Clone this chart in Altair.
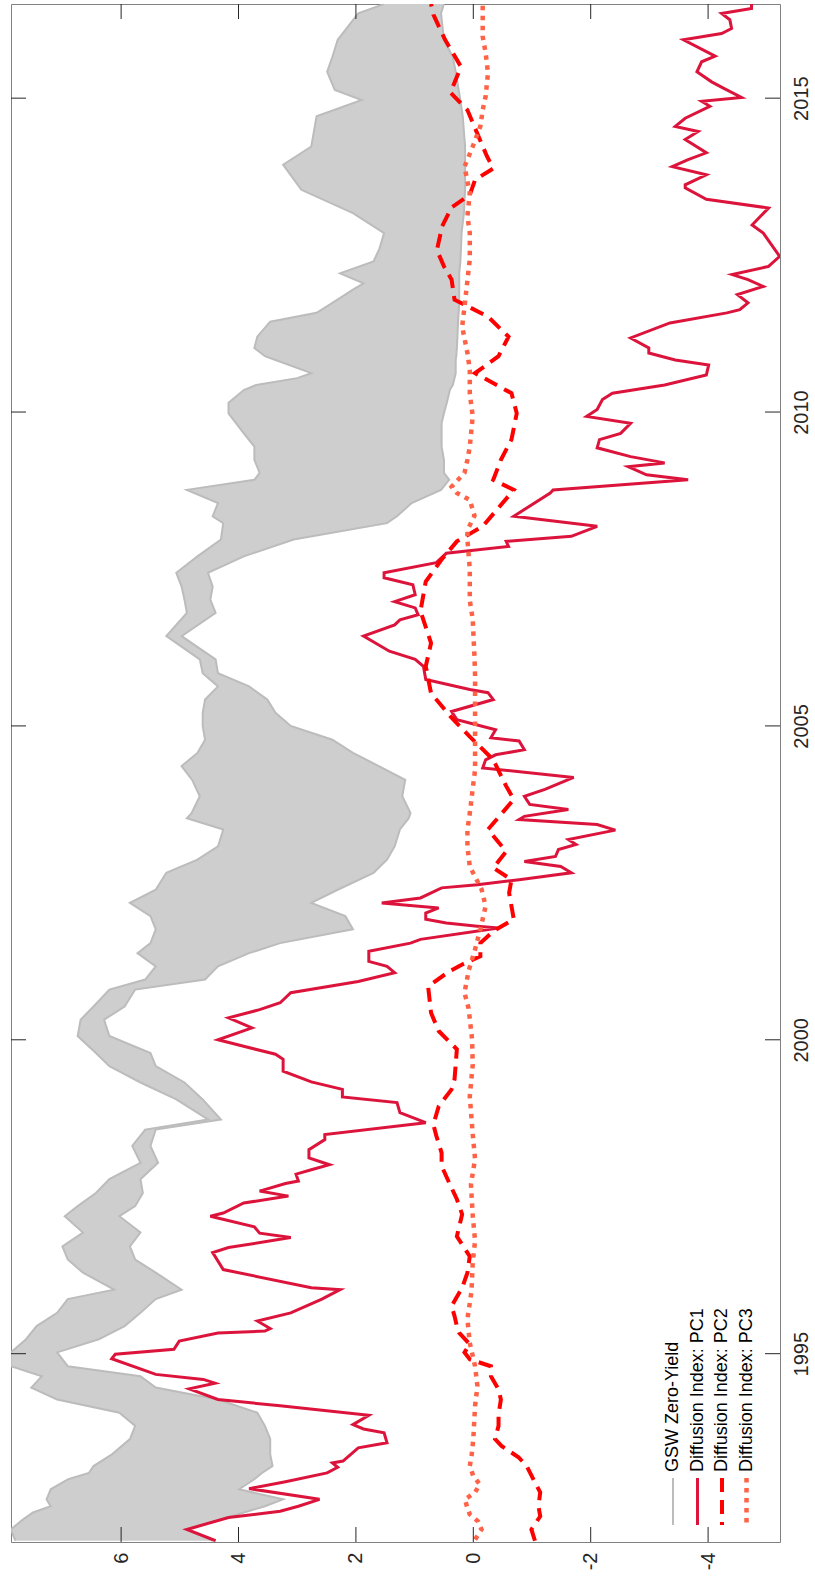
import altair as alt
import pandas as pd

# ---------------- data ----------------
gsw_year = [1992.02, 1992.20, 1992.36, 1992.47, 1992.57, 1992.68, 1992.84, 1993.00, 1993.10, 1993.21,
            1993.40, 1993.64, 1993.85, 1994.06, 1994.27, 1994.46, 1994.64, 1994.80, 1995.02, 1995.23,
            1995.44, 1995.65, 1995.87, 1996.02, 1996.29, 1996.50, 1996.71, 1996.93, 1997.19, 1997.35,
            1997.56, 1997.78, 1998.04, 1998.31, 1998.57, 1998.73, 1999.05, 1999.32, 1999.58, 1999.79,
            2000.06, 2000.32, 2000.53, 2000.80, 2000.96, 2001.17, 2001.38, 2001.54, 2001.76, 2001.97,
            2002.18, 2002.39, 2002.66, 2002.87, 2003.08, 2003.35, 2003.53, 2003.61, 2003.88, 2004.14,
            2004.36, 2004.57, 2004.78, 2005.00, 2005.21, 2005.42, 2005.63, 2005.84, 2006.06, 2006.43,
            2006.80, 2007.01, 2007.22, 2007.44, 2007.70, 2007.97, 2008.23, 2008.34, 2008.55, 2008.76,
            2008.92, 2009.03, 2009.24, 2009.45, 2009.66, 2009.82, 2009.98, 2010.15, 2010.35, 2010.43,
            2010.54, 2010.62, 2010.83, 2010.89, 2011.02, 2011.20, 2011.44, 2011.58, 2011.74, 2011.95,
            2012.05, 2012.21, 2012.40, 2012.60, 2012.85, 2013.17, 2013.54, 2013.94, 2014.23, 2014.71,
            2014.97, 2015.13, 2015.42, 2015.66, 2015.93, 2016.35, 2016.50]
gsw_long = [7.80, 7.88, 7.67, 7.50, 7.20, 7.27, 7.20, 6.90, 6.55, 6.47,
            6.15, 5.85, 5.76, 6.03, 7.09, 7.53, 7.35, 7.88, 7.88, 7.62,
            7.44, 7.09, 6.91, 6.12, 6.65, 6.91, 7.00, 6.65, 6.96, 6.74,
            6.43, 6.20, 5.67, 5.81, 5.59, 4.52, 5.06, 5.67, 6.20, 6.43,
            6.74, 6.69, 6.47, 6.20, 5.59, 5.41, 5.72, 5.50, 5.41, 5.50,
            5.85, 5.41, 5.23, 4.70, 4.35, 4.26, 4.88, 4.80, 4.66, 4.79,
            4.97, 4.70, 4.57, 4.61, 4.61, 4.57, 4.35, 4.61, 4.66, 5.23,
            4.88, 4.92, 4.97, 5.06, 4.70, 4.30, 4.26, 4.44, 4.35, 4.88,
            3.73, 3.64, 3.73, 3.73, 3.91, 4.04, 4.17, 4.17, 3.91, 3.70,
            3.00, 2.76, 3.37, 3.55, 3.73, 3.68, 3.46, 2.67, 2.40, 2.05,
            1.87, 2.27, 1.70, 1.60, 1.52, 2.05, 2.93, 3.24, 2.76, 2.67,
            1.90, 2.36, 2.49, 2.40, 2.31, 1.96, 1.52]
gsw_short = [4.44, 4.88, 4.30, 3.91, 3.55, 3.24, 3.99, 3.73, 3.60, 3.42,
             3.46, 3.46, 3.55, 3.68, 4.35, 5.41, 5.67, 6.91, 7.09, 6.38,
             5.94, 5.67, 5.41, 4.97, 5.41, 5.76, 5.85, 5.67, 6.03, 5.76,
             5.63, 5.67, 5.37, 5.50, 5.41, 4.30, 4.61, 4.92, 5.41, 5.50,
             6.20, 6.29, 5.94, 5.76, 4.57, 4.35, 3.82, 3.29, 2.05, 2.18,
             2.76, 2.31, 1.70, 1.47, 1.34, 1.25, 1.10, 1.07, 1.21, 1.16,
             1.61, 2.05, 2.40, 3.11, 3.37, 3.51, 3.82, 4.35, 4.39, 4.97,
             4.39, 4.48, 4.44, 4.52, 3.91, 3.06, 1.47, 1.30, 1.05, 0.55,
             0.41, 0.50, 0.50, 0.54, 0.54, 0.54, 0.50, 0.45, 0.40, 0.35,
             0.32, 0.30, 0.30, 0.29, 0.28, 0.27, 0.26, 0.25, 0.24, 0.24,
             0.24, 0.24, 0.22, 0.21, 0.20, 0.16, 0.14, 0.14, 0.14, 0.18,
             0.22, 0.25, 0.30, 0.35, 0.50, 0.55, 0.50]

pc1_year = [1992.02, 1992.20, 1992.39, 1992.49, 1992.57, 1992.68, 1992.85, 1992.96, 1993.10, 1993.19,
            1993.26, 1993.29, 1993.50, 1993.58, 1993.74, 1993.80, 1993.87, 1994.02, 1994.17, 1994.27,
            1994.44, 1994.53, 1994.59, 1994.67, 1994.92, 1994.99, 1995.07, 1995.20, 1995.33, 1995.36,
            1995.40, 1995.52, 1995.65, 1995.87, 1996.02, 1996.05, 1996.34, 1996.61, 1996.69, 1996.85,
            1996.92, 1997.02, 1997.19, 1997.24, 1997.40, 1997.51, 1997.59, 1997.71, 1997.75, 1997.86,
            1997.93, 1998.01, 1998.12, 1998.25, 1998.41, 1998.49, 1998.68, 1998.84, 1999.00, 1999.09,
            1999.21, 1999.33, 1999.50, 1999.69, 1999.77, 2000.00, 2000.19, 2000.35, 2000.48, 2000.59,
            2000.75, 2000.93, 2001.07, 2001.17, 2001.25, 2001.41, 2001.54, 2001.60, 2001.78, 2001.81,
            2001.86, 2001.92, 2002.02, 2002.10, 2002.18, 2002.26, 2002.42, 2002.47, 2002.55, 2002.66,
            2002.76, 2002.84, 2002.92, 2003.03, 2003.11, 2003.19, 2003.34, 2003.43, 2003.51, 2003.56,
            2003.67, 2003.75, 2003.88, 2003.99, 2004.18, 2004.33, 2004.46, 2004.54, 2004.62, 2004.76,
            2004.81, 2004.94, 2005.10, 2005.23, 2005.42, 2005.53, 2005.58, 2005.74, 2005.95, 2006.06,
            2006.19, 2006.43, 2006.61, 2006.69, 2006.77, 2006.88, 2006.98, 2007.09, 2007.25, 2007.36,
            2007.44, 2007.60, 2007.75, 2007.86, 2007.94, 2008.02, 2008.18, 2008.34, 2008.71, 2008.76,
            2008.92, 2009.00, 2009.13, 2009.19, 2009.29, 2009.43, 2009.56, 2009.66, 2009.82, 2009.93,
            2010.04, 2010.20, 2010.30, 2010.43, 2010.59, 2010.75, 2010.83, 2010.94, 2011.02, 2011.18,
            2011.42, 2011.58, 2011.63, 2011.74, 2011.87, 2012.00, 2012.11, 2012.19, 2012.32, 2012.48,
            2012.61, 2012.85, 2012.98, 2013.25, 2013.39, 2013.57, 2013.62, 2013.78, 2013.91, 2014.02,
            2014.13, 2014.34, 2014.47, 2014.55, 2014.68, 2014.87, 2014.95, 2015.01, 2015.16, 2015.26,
            2015.42, 2015.58, 2015.67, 2015.93, 2016.03, 2016.11, 2016.25, 2016.35, 2016.43, 2016.50]
pc1 = [4.39, 4.88, 4.17, 3.29, 2.98, 2.62, 3.82, 3.20, 2.49, 2.31,
       2.40, 2.22, 1.96, 1.47, 1.52, 1.87, 2.05, 1.78, 3.29, 4.35,
       4.84, 4.40, 4.60, 5.41, 6.16, 6.10, 5.10, 5.01, 4.35, 3.55,
       3.46, 3.68, 3.11, 2.58, 2.27, 2.76, 4.26, 4.44, 4.17, 3.11,
       3.64, 3.73, 4.48, 4.26, 3.91, 3.15, 3.64, 3.20, 2.98, 3.02,
       2.76, 2.45, 2.80, 2.80, 2.53, 2.53, 0.81, 1.25, 1.30, 2.23,
       2.23, 2.76, 3.24, 3.24, 3.37, 4.35, 3.77, 4.17, 3.64, 3.29,
       3.11, 1.96, 1.34, 1.47, 1.78, 1.78, 1.07, 0.90, -0.43, -0.07,
       0.46, 0.81, 0.81, 0.59, 1.56, 0.90, 0.54, -0.07, -0.78, -1.67,
       -1.49, -0.87, -1.40, -1.45, -1.75, -1.62, -2.42, -2.11, -0.78, -0.87,
       -1.62, -0.96, -0.87, -1.22, -1.71, -0.16, -0.21, -0.38, -0.87, -0.78,
       -0.30, -0.38, 0.28, 0.37, -0.34, -0.25, 0.06, 0.81, 0.85, 0.99,
       1.43, 1.87, 1.34, 1.25, 0.94, 0.99, 1.34, 0.99, 1.03, 1.52,
       1.52, 0.63, 0.46, -0.60, -0.56, -1.67, -2.11, -0.69, -1.31, -1.36,
       -3.66, -2.95, -2.64, -3.26, -2.68, -2.11, -2.15, -2.51, -2.68, -1.93,
       -2.11, -2.20, -2.37, -3.26, -3.97, -4.01, -3.44, -2.99, -2.99, -2.68,
       -3.35, -4.32, -4.54, -4.68, -4.50, -4.94, -4.68, -4.41, -5.03, -5.22,
       -5.12, -4.94, -4.75, -5.03, -3.97, -3.61, -3.61, -3.97, -3.39, -3.66,
       -3.97, -3.61, -3.83, -3.44, -3.61, -4.03, -3.89, -4.57, -4.26, -4.06,
       -3.81, -3.89, -4.12, -3.58, -4.23, -4.40, -4.37, -4.23, -4.74, -4.74]

pc2_year = [1992.02, 1992.20, 1992.41, 1992.57, 1992.79, 1992.95, 1993.21, 1993.35, 1993.53, 1993.64,
            1993.85, 1994.03, 1994.27, 1994.43, 1994.64, 1994.80, 1994.91, 1995.02, 1995.15, 1995.33,
            1995.44, 1995.60, 1995.76, 1996.05, 1996.29, 1996.55, 1996.87, 1997.22, 1997.46, 1997.72,
            1997.99, 1998.20, 1998.47, 1998.65, 1998.94, 1999.21, 1999.37, 1999.85, 2000.14, 2000.43,
            2000.85, 2001.09, 2001.20, 2001.33, 2001.54, 2001.73, 2001.92, 2002.34, 2002.55, 2002.74,
            2003.00, 2003.35, 2003.83, 2004.04, 2004.46, 2004.83, 2005.13, 2005.52, 2005.95, 2006.32,
            2006.83, 2007.30, 2007.65, 2007.94, 2008.18, 2008.76, 2008.92, 2009.24, 2009.56, 2009.98,
            2010.30, 2010.62, 2010.89, 2011.20, 2011.52, 2011.79, 2012.11, 2012.32, 2012.58, 2012.96,
            2013.26, 2013.46, 2013.70, 2013.88, 2014.08, 2014.52, 2014.81, 2015.09, 2015.50, 2015.93,
            2016.33, 2016.50]
pc2 = [-1.05, -0.99, -1.14, -1.11, -1.14, -1.05, -0.91, -0.77, -0.48, -0.37,
       -0.43, -0.43, -0.47, -0.43, -0.30, -0.30, 0.06, 0.15, 0.06, 0.24,
       0.28, 0.32, 0.37, 0.19, 0.10, 0.06, 0.28, 0.19, 0.28, 0.41,
       0.54, 0.54, 0.63, 0.68, 0.59, 0.37, 0.32, 0.28, 0.59, 0.72,
       0.77, 0.41, 0.19, -0.12, -0.12, -0.34, -0.69, -0.61, -0.65, -0.34,
       -0.56, -0.25, -0.69, -0.56, -0.34, 0.06, 0.37, 0.72, 0.81, 0.72,
       0.90, 0.81, 0.54, 0.28, -0.16, -0.69, -0.34, -0.47, -0.65, -0.74,
       -0.65, -0.03, -0.43, -0.60, -0.25, 0.32, 0.37, 0.50, 0.62, 0.53,
       0.37, 0.06, -0.03, -0.34, -0.23, -0.03, 0.10, 0.39, 0.21, 0.48,
       0.68, 0.72]

pc3_year = [1992.04, 1992.20, 1992.33, 1992.44, 1992.57, 1992.68, 1992.79, 1992.92, 1993.05, 1993.21,
            1993.37, 1993.64, 1994.17, 1994.48, 1994.80, 1995.17, 1995.55, 1996.00, 1996.45, 1996.80,
            1997.20, 1997.70, 1998.10, 1998.50, 1999.10, 1999.60, 2000.00, 2000.50, 2000.75, 2001.10,
            2001.44, 2001.76, 2002.13, 2002.40, 2002.76, 2003.08, 2003.35, 2003.61, 2004.00, 2004.30,
            2004.80, 2005.30, 2005.80, 2006.10, 2006.70, 2007.00, 2007.50, 2007.97, 2008.12, 2008.35,
            2008.60, 2008.71, 2008.81, 2009.03, 2009.24, 2009.45, 2009.93, 2010.30, 2010.67, 2010.94,
            2011.36, 2011.68, 2012.10, 2012.43, 2012.85, 2013.12, 2013.49, 2013.91, 2014.02, 2014.23,
            2014.55, 2014.81, 2015.03, 2015.40, 2015.72, 2015.98, 2016.43, 2016.50]
pc3 = [-0.03, -0.14, -0.08, 0.06, 0.11, 0.14, -0.03, -0.11, 0.00, 0.06,
       0.03, 0.00, -0.03, -0.07, -0.03, 0.06, 0.10, 0.03, 0.01, -0.03,
       0.01, 0.04, -0.03, 0.01, 0.06, 0.01, 0.02, 0.08, 0.15, 0.08,
       -0.03, -0.12, -0.21, -0.14, 0.06, 0.10, 0.10, 0.06, 0.01, -0.03,
       -0.03, -0.03, -0.03, -0.02, 0.01, 0.06, 0.06, 0.10, 0.10, -0.02,
       0.06, 0.28, 0.37, 0.15, 0.10, 0.06, 0.01, 0.06, 0.06, 0.10,
       0.19, 0.15, 0.10, 0.06, 0.06, 0.10, 0.06, 0.15, 0.10, 0.01,
       -0.12, -0.16, -0.21, -0.25, -0.21, -0.16, -0.16, -0.16]

value_ticks = [-4, -2, 0, 2, 4, 6]
year_ticks = [1995, 2000, 2005, 2010, 2015]
legend_labels = ["GSW Zero-Yield", "Diffusion Index: PC1", "Diffusion Index: PC2", "Diffusion Index: PC3"]

# ---------------- styling ----------------
W, H = 769, 1538
FONT = "Liberation Sans"
C_GRAY, C_FILL = "#bcbcbc", "#cecece"
C_PC1, C_PC2, C_PC3 = "#dc143c", "#ff0000", "#ff6347"
TICK = 15

xscale = alt.Scale(domain=[-5.225, 7.876], reverse=True, nice=False, zero=False)
yscale = alt.Scale(domain=[1992.0, 2016.5], nice=False, zero=False)
xaxis = alt.Axis(values=value_ticks, title="", ticks=False, domain=False, grid=False,
                 labelAngle=270, labelAlign="right", labelBaseline="middle", labelPadding=10,
                 labelFont=FONT, labelFontSize=20, labelColor="#262626",
                 labelExpr="datum.value < 0 ? '-' + (-datum.value) : '' + datum.value")
yaxis = alt.Axis(values=year_ticks, title="", orient="right", ticks=False, domain=False, grid=False,
                 format="d", labelAngle=270, labelAlign="center", labelBaseline="top", labelPadding=11,
                 labelFont=FONT, labelFontSize=20, labelColor="#262626")


def X(f):
    return alt.X(f, type="quantitative", scale=xscale, axis=xaxis)


def Y(f):
    return alt.Y(f, type="quantitative", scale=yscale, axis=yaxis)


band = pd.DataFrame({"year": gsw_year, "hi": gsw_long, "lo": gsw_short})
area = alt.Chart(band).mark_area(orient="horizontal", color=C_FILL, clip=True).encode(
    x=X("hi"), x2="lo", y=Y("year"))


def edge(col):
    return alt.Chart(band).mark_line(color=C_GRAY, strokeWidth=2, clip=True).encode(
        x=X(col), y=Y("year"), order=alt.Order("year:Q"))


def series(years, vals, color, width, dash=None):
    kw = dict(color=color, strokeWidth=width, clip=True)
    if dash:
        kw["strokeDash"] = dash
    df = pd.DataFrame({"year": years, "value": vals})
    return alt.Chart(df).mark_line(**kw).encode(x=X("value"), y=Y("year"), order=alt.Order("year:Q"))


l1 = series(pc1_year, pc1, C_PC1, 3)
l2 = series(pc2_year, pc2, C_PC2, 4, [14, 8])
l3 = series(pc3_year, pc3, C_PC3, 4.5, [4.5, 5.5])

# inward ticks on all four sides (MATLAB box style)
vt = pd.DataFrame({"value": value_ticks})
yt = pd.DataFrame({"year": year_ticks})
tick_kw = dict(color="#262626", strokeWidth=1)
t_top = alt.Chart(vt).mark_rule(**tick_kw).encode(x=X("value"), y=alt.value(0), y2=alt.value(TICK))
t_bot = alt.Chart(vt).mark_rule(**tick_kw).encode(x=X("value"), y=alt.value(H - TICK), y2=alt.value(H))
t_left = alt.Chart(yt).mark_rule(**tick_kw).encode(y=Y("year"), x=alt.value(0), x2=alt.value(TICK))
t_right = alt.Chart(yt).mark_rule(**tick_kw).encode(y=Y("year"), x=alt.value(W - TICK), x2=alt.value(W))

# legend (rotated, inside lower right)
LX0, LSTEP, LTEXT_Y, LLINE_Y0, LLINE_Y1 = 662, 24.5, 1468, 1474, 1521
leg_df = pd.DataFrame({"label": legend_labels, "k": list(range(len(legend_labels)))})
leg_text = alt.Chart(leg_df).transform_calculate(px=f"{LX0} + {LSTEP} * datum.k").mark_text(
    angle=270, align="left", baseline="middle", font=FONT, fontSize=18, color="#000000").encode(
    x=alt.X("px:Q", scale=None), y=alt.value(LTEXT_Y), text="label:N")

one = pd.DataFrame({"k": [0]})
styles = [(C_GRAY, 2, None), (C_PC1, 3, None), (C_PC2, 4, [14, 8]), (C_PC3, 4.5, [4.5, 5.5])]
leg_lines = []
for i, (c, w, d) in enumerate(styles):
    kw = dict(color=c, strokeWidth=w)
    if d:
        kw["strokeDash"] = d
    leg_lines.append(alt.Chart(one).mark_rule(**kw).encode(
        x=alt.value(LX0 + LSTEP * i), y=alt.value(LLINE_Y0), y2=alt.value(LLINE_Y1)))

chart = alt.layer(area, edge("hi"), edge("lo"), l1, l2, l3,
                  t_top, t_bot, t_left, t_right, leg_text, *leg_lines).properties(
    width=W, height=H,
    padding={"left": 11, "top": 4, "right": 35, "bottom": 35},
    autosize=alt.AutoSizeParams(type="none"),
    background="white",
).configure_view(stroke="#808080", strokeWidth=1)

chart.save("out.html", embed_options={"renderer": "svg", "actions": False})
